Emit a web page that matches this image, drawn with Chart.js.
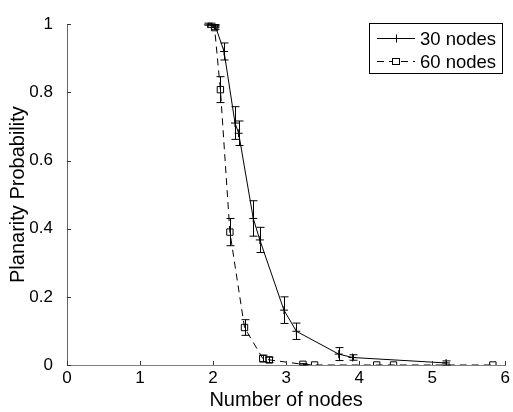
<!DOCTYPE html>
<html>
<head>
<meta charset="utf-8">
<script src="https://cdn.jsdelivr.net/npm/chart.js@4/dist/chart.umd.min.js"></script>
<style>
  body { margin: 0; background: #fff; }
</style>
</head>
<body>
<canvas id="myChart" width="513" height="412"></canvas>
<script>
// measured planarity probability, with half-width of the error bar
const nodes30 = [1.93, 2.03, 2.15, 2.30, 2.35, 2.55, 2.64, 2.97, 3.14, 3.72, 3.91, 5.19]
const prob30 = [1.0, 0.995, 0.92, 0.71, 0.68, 0.43, 0.367, 0.161, 0.099, 0.032, 0.022, 0.006]
const err30 = [0.003, 0.004, 0.025, 0.048, 0.036, 0.052, 0.037, 0.039, 0.024, 0.019, 0.008, 0.006]

const nodes60 = [1.97, 2.02, 2.10, 2.23, 2.43, 2.68, 2.77, 3.23, 3.39, 4.24, 4.47, 5.83]
const prob60 = [1.0, 0.99, 0.808, 0.39, 0.11, 0.019, 0.015, 0.002, 0.0, 0.0, 0.0, 0.0]
const err60 = [0.003, 0.005, 0.038, 0.04, 0.023, 0.01, 0.008, 0.002, 0, 0, 0, 0]

const seriesLabels = ['30 nodes', '60 nodes']
const xTicks = [0, 1, 2, 3, 4, 5, 6]
const yTicks = [0, 0.2, 0.4, 0.6, 0.8, 1]

const toPoints = (xs, ys) => xs.map((x, i) => ({ x: x, y: ys[i] }))
const errors = [err30, err60]

Chart.defaults.font.family = '"Liberation Sans", Arial, sans-serif'
Chart.defaults.color = '#000'

// error bars, inward ticks and the boxed legend
const extras = {
  id: 'extras',
  afterDatasetsDraw(chart) {
    const ctx = chart.ctx
    const xs = chart.scales.x
    const ys = chart.scales.y
    ctx.save()
    ctx.strokeStyle = '#000'
    ctx.lineWidth = 1
    ctx.setLineDash([])
    chart.data.datasets.forEach((ds, i) => {
      ds.data.forEach((p, j) => {
        const e = errors[i][j]
        if (!e) return
        const x = Math.round(xs.getPixelForValue(p.x)) + 0.5
        const top = ys.getPixelForValue(Math.min(p.y + e, 1.003))
        const bot = ys.getPixelForValue(p.y - e)
        ctx.beginPath()
        ctx.moveTo(x, top); ctx.lineTo(x, bot)
        ctx.moveTo(x - 4, top); ctx.lineTo(x + 4, top)
        ctx.moveTo(x - 4, bot); ctx.lineTo(x + 4, bot)
        ctx.stroke()
      })
    })

    // tick marks pointing into the plot
    ctx.strokeStyle = '#333'
    ctx.beginPath()
    xTicks.forEach(t => {
      const x = Math.round(xs.getPixelForValue(t)) + 0.5
      ctx.moveTo(x, ys.bottom); ctx.lineTo(x, ys.bottom - 4)
    })
    yTicks.forEach(t => {
      const y = Math.round(ys.getPixelForValue(t)) + 0.5
      ctx.moveTo(xs.left, y); ctx.lineTo(xs.left + 4, y)
    })
    ctx.stroke()
    ctx.restore()
  },
  afterDraw(chart) {
    const ctx = chart.ctx
    ctx.save()
    ctx.fillStyle = '#fff'
    ctx.fillRect(369.5, 23.5, 133, 50)
    ctx.strokeStyle = '#000'
    ctx.lineWidth = 1
    ctx.strokeRect(369.5, 23.5, 133, 50)
    chart.data.datasets.forEach((ds, i) => {
      const y = 38.5 + i * 23
      ctx.setLineDash(ds.borderDash || [])
      ctx.beginPath()
      ctx.moveTo(377, y); ctx.lineTo(415, y)
      ctx.stroke()
      ctx.setLineDash([])
      if (ds.pointStyle === 'rect') {
        ctx.fillStyle = '#fff'
        ctx.fillRect(392.5, y - 3, 7, 6)
        ctx.strokeRect(392.5, y - 3, 7, 6)
      } else {
        ctx.beginPath()
        ctx.moveTo(396.5, y - 4); ctx.lineTo(396.5, y + 4)
        ctx.stroke()
      }
      ctx.fillStyle = '#000'
      ctx.font = '18.5px "Liberation Sans", Arial, sans-serif'
      ctx.textBaseline = 'middle'
      ctx.fillText(ds.label, 420, y + 1)
    })
    ctx.restore()
  }
}

const ctx = document.getElementById('myChart')
const myChart = new Chart(ctx, {
  type: 'scatter',
  data: {
    datasets: [{
      label: seriesLabels[0],
      data: toPoints(nodes30, prob30),
      showLine: true,
      borderColor: '#000',
      backgroundColor: '#000',
      borderWidth: 1,
      pointStyle: 'cross',
      pointRadius: 4,
      pointBorderWidth: 1
    }, {
      label: seriesLabels[1],
      data: toPoints(nodes60, prob60),
      showLine: true,
      borderColor: '#000',
      backgroundColor: 'rgba(0,0,0,0)',
      borderWidth: 1,
      borderDash: [7, 5],
      pointStyle: 'rect',
      pointRadius: 4.5,
      pointBorderWidth: 1
    }]
  },
  options: {
    responsive: false,
    animation: false,
    layout: { padding: { top: 17, right: 3, left: 0, bottom: 0 } },
    plugins: {
      legend: { display: false },
      tooltip: { enabled: false }
    },
    scales: {
      x: {
        type: 'linear',
        min: 0,
        max: 6,
        afterFit: s => { s.height = 47 },
        afterBuildTicks: s => { s.ticks = xTicks.map(v => ({ value: v })) },
        ticks: { font: { size: 17 }, padding: 3, maxRotation: 0, callback: v => String(v) },
        grid: { display: false, drawTicks: false },
        border: { display: true, color: '#808080', width: 1 },
        title: { display: true, text: 'Number of nodes', font: { size: 20 }, padding: { top: 3, bottom: 0 } }
      },
      y: {
        type: 'linear',
        min: 0,
        max: 1,
        afterFit: s => { s.width = 67 },
        afterBuildTicks: s => { s.ticks = yTicks.map(v => ({ value: v })) },
        ticks: { font: { size: 17 }, padding: 14, callback: v => String(v) },
        grid: { display: false, drawTicks: false },
        border: { display: true, color: '#666', width: 1 },
        title: { display: true, text: 'Planarity Probability', font: { size: 20 }, padding: { top: 6, bottom: 0 } }
      }
    }
  },
  plugins: [extras]
})
</script>
</body>
</html>
